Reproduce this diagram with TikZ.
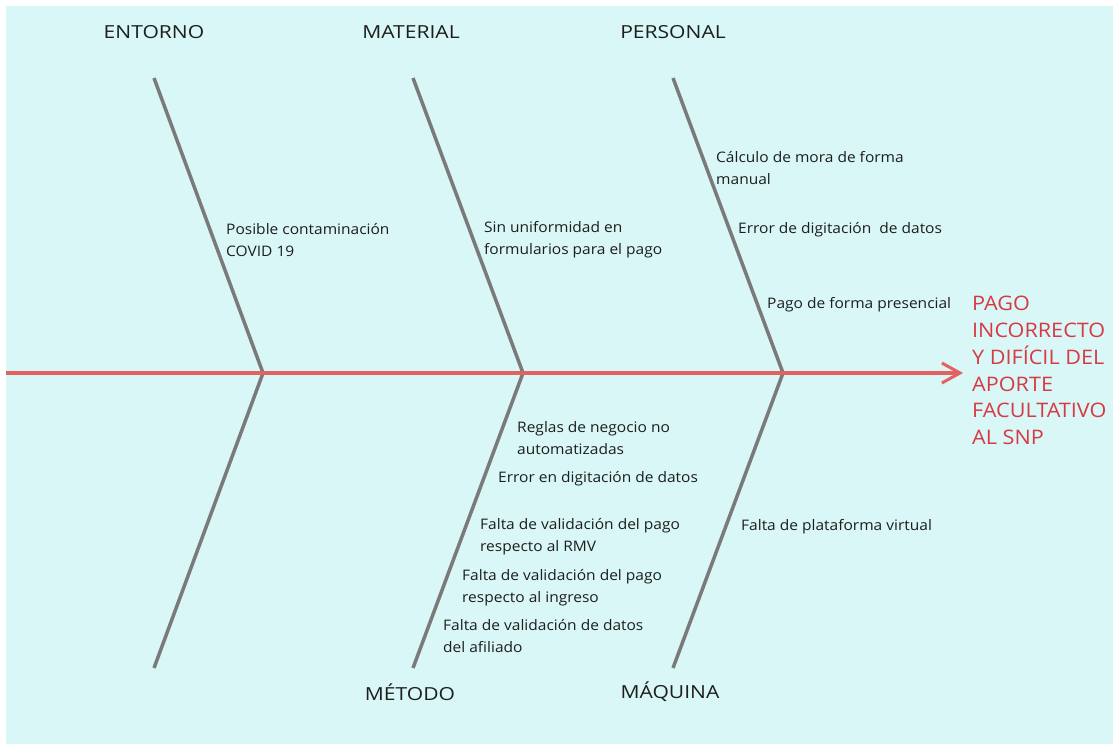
\documentclass[tikz,border=0pt]{standalone}
\usepackage{fontspec}
\setmainfont{Open Sans}[FakeStretch=1.07]
\newfontfamily\titlefont{Open Sans}[FakeStretch=1.17]
\newfontfamily\effectfont{Open Sans}[FakeStretch=1.08]
\usetikzlibrary{arrows.meta}
\definecolor{bg}{RGB}{217,247,247}
\definecolor{bonegray}{RGB}{122,122,122}
\definecolor{spinered}{RGB}{226,98,98}
\definecolor{effred}{RGB}{214,58,68}
\definecolor{txt}{RGB}{30,30,30}
\begin{document}
\begin{tikzpicture}[x=1pt,y=-1pt,
  boneline/.style={draw=bonegray,line width=3.5pt},
  spineline/.style={draw=spinered,line width=3.5pt,-{Straight Barb[length=18pt,width=20pt,line width=3pt]}},
  cattitle/.style={text=txt,inner sep=0pt,font=\titlefont\fontsize{18}{21}\selectfont},
  cause/.style={text=txt,inner sep=0pt,anchor=west,align=left,font=\fontsize{14.5}{22}\selectfont},
  effect/.style={text=effred,inner sep=0pt,anchor=north west,align=left,font=\effectfont\fontsize{20}{26.8}\selectfont}]
\fill[white] (0,0) rectangle (1113,744);
\fill[bg] (6,6) rectangle (1113,744);
\useasboundingbox (0,0) rectangle (1113,744);

\coordinate (tail) at (6,373);
\coordinate (tip) at (963,373);
\coordinate (j1) at (263,373);
\coordinate (j2) at (523,373);
\coordinate (j3) at (783,373);
\coordinate (t1) at (154,78);
\coordinate (t2) at (413,78);
\coordinate (t3) at (673,78);
\coordinate (b1) at (154,668);
\coordinate (b2) at (413,668);
\coordinate (b3) at (673,668);

\draw[boneline] (t1) -- (j1) -- (b1);
\draw[boneline] (t2) -- (j2) -- (b2);
\draw[boneline] (t3) -- (j3) -- (b3);
\draw[spineline] (tail) -- (tip);

\node[cattitle] (entorno) at (154,32) {ENTORNO};
\node[cattitle] (material) at (411,32) {MATERIAL};
\node[cattitle] (personal) at (673,32) {PERSONAL};
\node[cattitle] (metodo) at (410,692) {MÉTODO};
\node[cattitle] (maquina) at (670,692) {MÁQUINA};

\node[effect] (eff) at (972,296) {PAGO\\INCORRECTO\\Y DIFÍCIL DEL\\APORTE\\FACULTATIVO\\AL SNP};

\node[cause] (c1) at (226,240) {Posible contaminación\\COVID 19};
\node[cause] (c2) at (484,240) {Sin uniformidad en\\formularios para el pago};
\node[cause] (c3) at (716,168) {Cálculo de mora de forma\\manual};
\node[cause] (c4) at (738,230) {Error de digitación~~de datos};
\node[cause] (c5) at (767,305) {Pago de forma presencial};
\node[cause] (c6) at (517,438) {Reglas de negocio no\\automatizadas};
\node[cause] (c7) at (498,479) {Error en digitación de datos};
\node[cause] (c8) at (480,537) {Falta de validación del pago\\respecto al RMV};
\node[cause] (c9) at (462,588) {Falta de validación del pago\\respecto al ingreso};
\node[cause] (c10) at (443,636) {Falta de validación de datos\\del afiliado};
\node[cause] (c11) at (741,527) {Falta de plataforma virtual};
\end{tikzpicture}
\end{document}
